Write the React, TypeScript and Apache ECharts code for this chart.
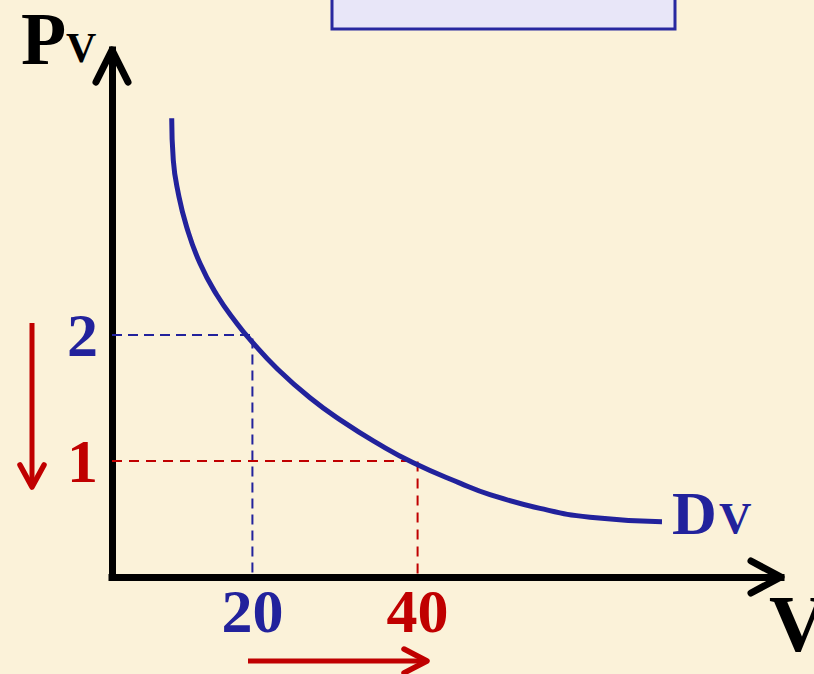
import React, { useEffect, useRef } from "react";
import * as echarts from "echarts";

// Demand curve Dv: quantity (V) against price (Pv)
const quantity = [10.23, 10.42, 11.03, 12.04, 13.65, 15.68, 18.1, 19.79, 22.94, 26.97, 31.0, 35.05, 39.48, 45.13, 48.76, 54.82, 60.87, 69.59];
const price = [3.718, 3.387, 3.122, 2.857, 2.568, 2.319, 2.093, 1.958, 1.736, 1.502, 1.31, 1.144, 0.986, 0.825, 0.734, 0.624, 0.554, 0.519];

// Price falls from 2 to 1, quantity rises from 20 to 40
const highPrice = 2;
const lowPrice = 1;
const lowQty = 20;
const highQty = 40;

const xTicks = [20, 40];
const yTicks = [1, 2];

const X_MIN = 3;
const X_MAX = 84;
const Y_MIN = 0.08;
const Y_MAX = 4.26;

const BLUE = "#22229C";
const RED = "#C00000";
const BLACK = "#000000";
const SERIF = '"Liberation Serif", "Times New Roman", serif';

// plot area in pixels
const G_LEFT = 112;
const G_TOP = 50;
const G_RIGHT = 781;
const G_BOTTOM = 577;

export default function App() {
  const ref = useRef<HTMLDivElement>(null);

  useEffect(() => {
    if (!ref.current) return;
    const chart = echarts.init(ref.current, undefined, { renderer: "svg" });

    const curve = quantity.map((q, i) => [q, price[i]]);
    const guideHigh = [
      [X_MIN, highPrice],
      [lowQty, highPrice],
      [lowQty, Y_MIN],
    ];
    const guideLow = [
      [X_MIN, lowPrice],
      [highQty, lowPrice],
      [highQty, Y_MIN],
    ];

    const labelColor = (v: any) => (Number(v) === lowQty || Number(v) === highPrice ? BLUE : RED);

    chart.setOption({
      animation: false,
      backgroundColor: "#FBF2D9",
      grid: {
        left: G_LEFT,
        top: G_TOP,
        width: G_RIGHT - G_LEFT,
        height: G_BOTTOM - G_TOP,
        containLabel: false,
      },
      xAxis: {
        type: "value",
        min: X_MIN,
        max: X_MAX,
        axisLine: { show: true, onZero: false, lineStyle: { color: BLACK, width: 7, cap: "square" } },
        axisTick: { show: false },
        splitLine: { show: false },
        axisLabel: {
          customValues: xTicks,
          margin: 3,
          fontSize: 62,
          fontWeight: "bold",
          fontFamily: SERIF,
          color: labelColor,
        },
      },
      yAxis: {
        type: "value",
        min: Y_MIN,
        max: Y_MAX,
        axisLine: { show: true, onZero: false, lineStyle: { color: BLACK, width: 7, cap: "square" } },
        axisTick: { show: false },
        splitLine: { show: false },
        axisLabel: {
          customValues: yTicks,
          margin: 14,
          fontSize: 62,
          fontWeight: "bold",
          fontFamily: SERIF,
          color: labelColor,
        },
      },
      series: [
        {
          type: "line",
          data: guideHigh,
          symbol: "none",
          lineStyle: { color: BLUE, width: 2, type: [10, 6] },
          z: 1,
        },
        {
          type: "line",
          data: guideLow,
          symbol: "none",
          lineStyle: { color: RED, width: 2, type: [10, 7] },
          z: 1,
        },
        {
          type: "line",
          data: curve,
          symbol: "none",
          smooth: 0.5,
          lineStyle: { color: BLUE, width: 5, cap: "butt" },
          z: 3,
        },
      ],
      graphic: [
        // caption box at the top
        {
          type: "rect",
          shape: { x: 332, y: -5, width: 343, height: 34 },
          style: { fill: "#E8E6F8", stroke: "#2828A0", lineWidth: 3 },
        },
        // arrowheads of the axes
        {
          type: "polyline",
          shape: { points: [[G_LEFT - 16, G_TOP + 32], [G_LEFT, G_TOP], [G_LEFT + 16, G_TOP + 32]] },
          style: { stroke: BLACK, lineWidth: 7, lineCap: "round", lineJoin: "round", fill: "none" },
          z: 10,
        },
        {
          type: "polyline",
          shape: { points: [[G_RIGHT - 30, G_BOTTOM - 16], [G_RIGHT, G_BOTTOM], [G_RIGHT - 30, G_BOTTOM + 16]] },
          style: { stroke: BLACK, lineWidth: 7, lineCap: "round", lineJoin: "round", fill: "none" },
          z: 10,
        },
        // price falls
        {
          type: "line",
          shape: { x1: 32, y1: 323, x2: 32, y2: 485 },
          style: { stroke: RED, lineWidth: 5 },
        },
        {
          type: "polyline",
          shape: { points: [[20, 465], [32, 487], [44, 465]] },
          style: { stroke: RED, lineWidth: 5.5, lineCap: "round", lineJoin: "round", fill: "none" },
        },
        // quantity rises
        {
          type: "line",
          shape: { x1: 248, y1: 661, x2: 425, y2: 661 },
          style: { stroke: RED, lineWidth: 5 },
        },
        {
          type: "polyline",
          shape: { points: [[404, 649], [427, 661], [404, 673]] },
          style: { stroke: RED, lineWidth: 5.5, lineCap: "round", lineJoin: "round", fill: "none" },
        },
        // axis names
        {
          type: "text",
          style: { text: "P", x: 21, y: 39, fill: BLACK, font: `bold 74px ${SERIF}`, align: "left", verticalAlign: "middle" },
        },
        {
          type: "text",
          style: { text: "V", x: 66, y: 48, fill: BLACK, font: `bold 42px ${SERIF}`, align: "left", verticalAlign: "middle" },
        },
        {
          type: "text",
          style: { text: "V", x: 769, y: 624, fill: BLACK, font: `bold 80px ${SERIF}`, align: "left", verticalAlign: "middle" },
        },
        // curve name
        {
          type: "text",
          style: { text: "D", x: 672, y: 513, fill: BLUE, font: `bold 62px ${SERIF}`, align: "left", verticalAlign: "middle" },
        },
        {
          type: "text",
          style: { text: "V", x: 719, y: 518, fill: BLUE, font: `bold 45px ${SERIF}`, align: "left", verticalAlign: "middle" },
        },
      ],
    });

    return () => chart.dispose();
  }, []);

  return (
    <div
      ref={ref}
      style={{ position: "fixed", left: 0, top: 0, width: 814, height: 674 }}
    />
  );
}
